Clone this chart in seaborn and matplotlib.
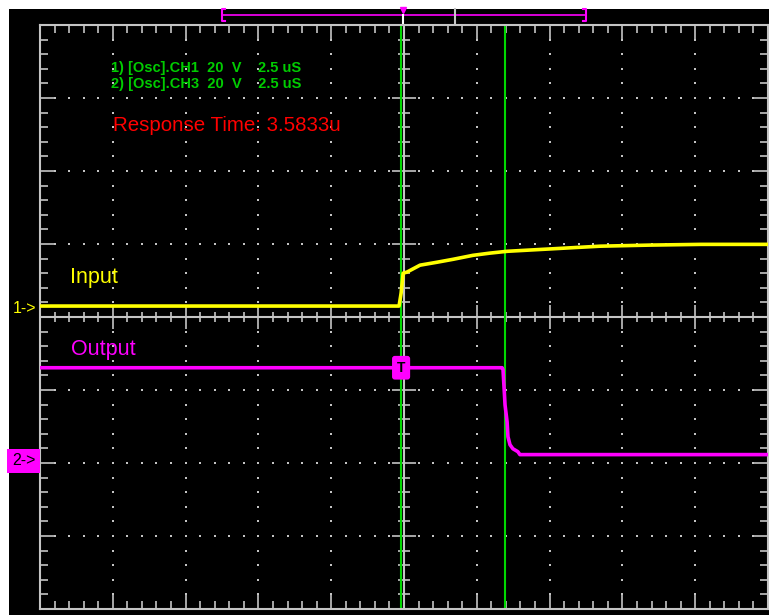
import numpy as np
import pandas as pd
import matplotlib
matplotlib.use("Agg")
import matplotlib.pyplot as plt
import matplotlib.transforms as mtransforms
from matplotlib.patches import Rectangle
import seaborn as sns

# Scope settings
US_PER_DIV = 2.5
VOLTS_PER_DIV = 20.0
CH1_OFFSET_DIV = 0.12     # ground reference of channel 1 (divisions from centre)
CH2_OFFSET_DIV = -1.97    # ground reference of channel 2

# Channel 1 - input (time in us, volts)
input_t = [-12.5, -0.17, -0.10, -0.03, 0.10, 0.55, 1.13, 1.68, 2.37, 2.95, 3.54,
           4.22, 5.36, 6.73, 8.45, 10.2, 12.5]
input_v = [0.6, 0.6, 4.1, 9.6, 9.9, 11.8, 12.6, 13.4, 14.5, 15.1, 15.6,
           15.9, 16.4, 17.0, 17.3, 17.5, 17.5]

# Channel 3 - output (time in us, volts)
output_t = [-12.5, 3.37, 3.40, 3.47, 3.54, 3.57, 3.64, 3.74, 3.91, 3.98, 12.5]
output_v = [25.5, 25.5, 25.0, 15.3, 10.7, 6.6, 4.4, 3.3, 2.5, 1.7, 1.7]

# Cursors / measurement
cursor_a_us = -0.10
response_time_us = 3.5833
trigger_t_us = -0.10

# Memory window bracket on top (us)
window_lo, window_hi, window_mark = -6.25, 6.25, 1.75

W, H = 769, 615
GRAY = "#c4c4c4"
YELLOW = "#ffff00"
MAGENTA = "#ff00ff"
GREEN_TXT = "#00cc00"
GREEN_CUR = "#00d800"

df = pd.concat([
    pd.DataFrame({"t": input_t,
                  "div": CH1_OFFSET_DIV + np.array(input_v) / VOLTS_PER_DIV,
                  "trace": "Input"}),
    pd.DataFrame({"t": output_t,
                  "div": CH2_OFFSET_DIV + np.array(output_v) / VOLTS_PER_DIV,
                  "trace": "Output"}),
], ignore_index=True)

plt.rcParams["font.family"] = ["Liberation Sans", "DejaVu Sans"]

fig = plt.figure(figsize=(W / 100, H / 100), dpi=100, facecolor="white")
# black screen area
fig.add_artist(Rectangle((9 / W, 0), 1, 1 - 9 / H, transform=fig.transFigure,
                         facecolor="black", edgecolor="none", zorder=0))

def fx(px):
    return px / W

def fy(py):
    return 1 - py / H

ax = fig.add_axes([fx(40), fy(609), fx(768) - fx(40), fy(25) - fy(609)])
ax.set_facecolor("black")
ax.set_xlim(-5 * US_PER_DIV, 5 * US_PER_DIV)
ax.set_ylim(-4, 4)

# border ticks (graticule edge)
ax.set_xticks(np.arange(-5, 6) * US_PER_DIV)
ax.set_xticks(np.arange(-25, 26) * US_PER_DIV / 5, minor=True)
ax.set_yticks(np.arange(-4, 5))
ax.set_yticks(np.arange(-20, 21) / 5, minor=True)
ax.tick_params(which="both", direction="in", top=True, right=True,
               labelbottom=False, labelleft=False, color=GRAY, width=1.2)
ax.tick_params(which="major", length=10)
ax.tick_params(which="minor", length=5.5)
for s in ax.spines.values():
    s.set_color(GRAY)
    s.set_linewidth(1.5)

# dotted graticule
minor_x = np.arange(-24, 25) * US_PER_DIV / 5
minor_y = np.arange(-19, 20) / 5
for gy in [-3, -2, -1, 1, 2, 3]:
    ax.scatter(minor_x, np.full_like(minor_x, gy), s=1.2, color=GRAY,
               marker="s", linewidths=0, zorder=1)
for gx in np.array([-4, -3, -2, -1, 1, 2, 3, 4]) * US_PER_DIV:
    ax.scatter(np.full_like(minor_y, gx), minor_y, s=1.2, color=GRAY,
               marker="s", linewidths=0, zorder=1)

# centre axes with cross ticks
ax.axhline(0, color=GRAY, lw=1.5, zorder=1)
ax.axvline(0, color=GRAY, lw=1.5, zorder=1)
cx_minor = minor_x[(np.abs(minor_x) > 1e-9) & (np.abs(np.round(minor_x / US_PER_DIV) * US_PER_DIV - minor_x) > 1e-9)]
cx_major = np.array([-4, -3, -2, -1, 1, 2, 3, 4]) * US_PER_DIV
ax.plot(cx_minor, np.zeros_like(cx_minor), ls="none", marker="|", ms=7.5,
        mew=1.2, color=GRAY, zorder=1)
ax.plot(cx_major, np.zeros_like(cx_major), ls="none", marker="|", ms=17,
        mew=1.2, color=GRAY, zorder=1)
cy_minor = minor_y[(np.abs(minor_y) > 1e-9) & (np.abs(np.round(minor_y) - minor_y) > 1e-9)]
cy_major = np.array([-3, -2, -1, 1, 2, 3], dtype=float)
ax.plot(np.zeros_like(cy_minor), cy_minor, ls="none", marker="_", ms=8.5,
        mew=1.2, color=GRAY, zorder=1)
ax.plot(np.zeros_like(cy_major), cy_major, ls="none", marker="_", ms=17,
        mew=1.2, color=GRAY, zorder=1)

# cursors
ax.axvline(cursor_a_us, color=GREEN_CUR, lw=1.5, zorder=2)
ax.axvline(cursor_a_us + response_time_us, color=GREEN_CUR, lw=1.5, zorder=2)

# traces
sns.lineplot(data=df, x="t", y="div", hue="trace",
             palette={"Input": YELLOW, "Output": MAGENTA},
             estimator=None, sort=False, legend=False, lw=2.6, ax=ax,
             zorder=3)
ax.set_xlabel("")
ax.set_ylabel("")

# trigger marker on output trace
ax.text(trigger_t_us, CH2_OFFSET_DIV + output_v[0] / VOLTS_PER_DIV, "T",
        ha="center", va="center", fontsize=10, fontweight="bold", color="black",
        zorder=5, bbox=dict(boxstyle="round,pad=0.35,rounding_size=0.2",
                            fc=MAGENTA, ec="none"))

# channel ground markers
lbl = mtransforms.blended_transform_factory(fig.transFigure, ax.transData)
ax.text(fx(13), CH1_OFFSET_DIV, "1->", transform=lbl, ha="left", va="center",
        fontsize=11.5, color=YELLOW, clip_on=False)
ax.text(fx(12), CH2_OFFSET_DIV, "2->", transform=lbl, ha="left", va="center",
        fontsize=11.5, color="black", clip_on=False,
        bbox=dict(boxstyle="square,pad=0.3", fc=MAGENTA, ec="none"))

# memory window bracket
top = mtransforms.blended_transform_factory(ax.transData, fig.transFigure)
yb = fy(15)
ax.plot([window_lo, window_hi], [yb, yb], color=MAGENTA, lw=1.2,
        transform=top, clip_on=False)
for xe, d in [(window_lo, 0.12), (window_hi, -0.12)]:
    ax.plot([xe + d, xe, xe, xe + d], [fy(9), fy(9), fy(21), fy(21)],
            color=MAGENTA, lw=1.5, transform=top, clip_on=False)
ax.plot([window_mark, window_mark], [fy(9), fy(23)], color=GRAY, lw=1.5,
        transform=top, clip_on=False)
ax.plot([-0.05, -0.05], [fy(15), fy(25)], color="white", lw=1.5,
        transform=top, clip_on=False)
ax.plot([-0.05], [fy(10)], marker="v", ms=5, color=MAGENTA, transform=top,
        clip_on=False)

# annotations
fig.text(fx(111), fy(72), "1) [Osc].CH1  20  V    2.5 uS", fontsize=10.5,
         fontweight="bold", color=GREEN_TXT, va="baseline")
fig.text(fx(111), fy(88), "2) [Osc].CH3  20  V    2.5 uS", fontsize=10.5,
         fontweight="bold", color=GREEN_TXT, va="baseline")
fig.text(fx(113), fy(131), f"Response Time: {response_time_us:.4f}u",
         fontsize=14.8, color="#ff0000", va="baseline")
fig.text(fx(70), fy(283), "Input", fontsize=15.5, color=YELLOW, va="baseline")
fig.text(fx(71), fy(355), "Output", fontsize=15.5, color=MAGENTA, va="baseline")

fig.savefig("out.png", dpi=100, facecolor="white")
